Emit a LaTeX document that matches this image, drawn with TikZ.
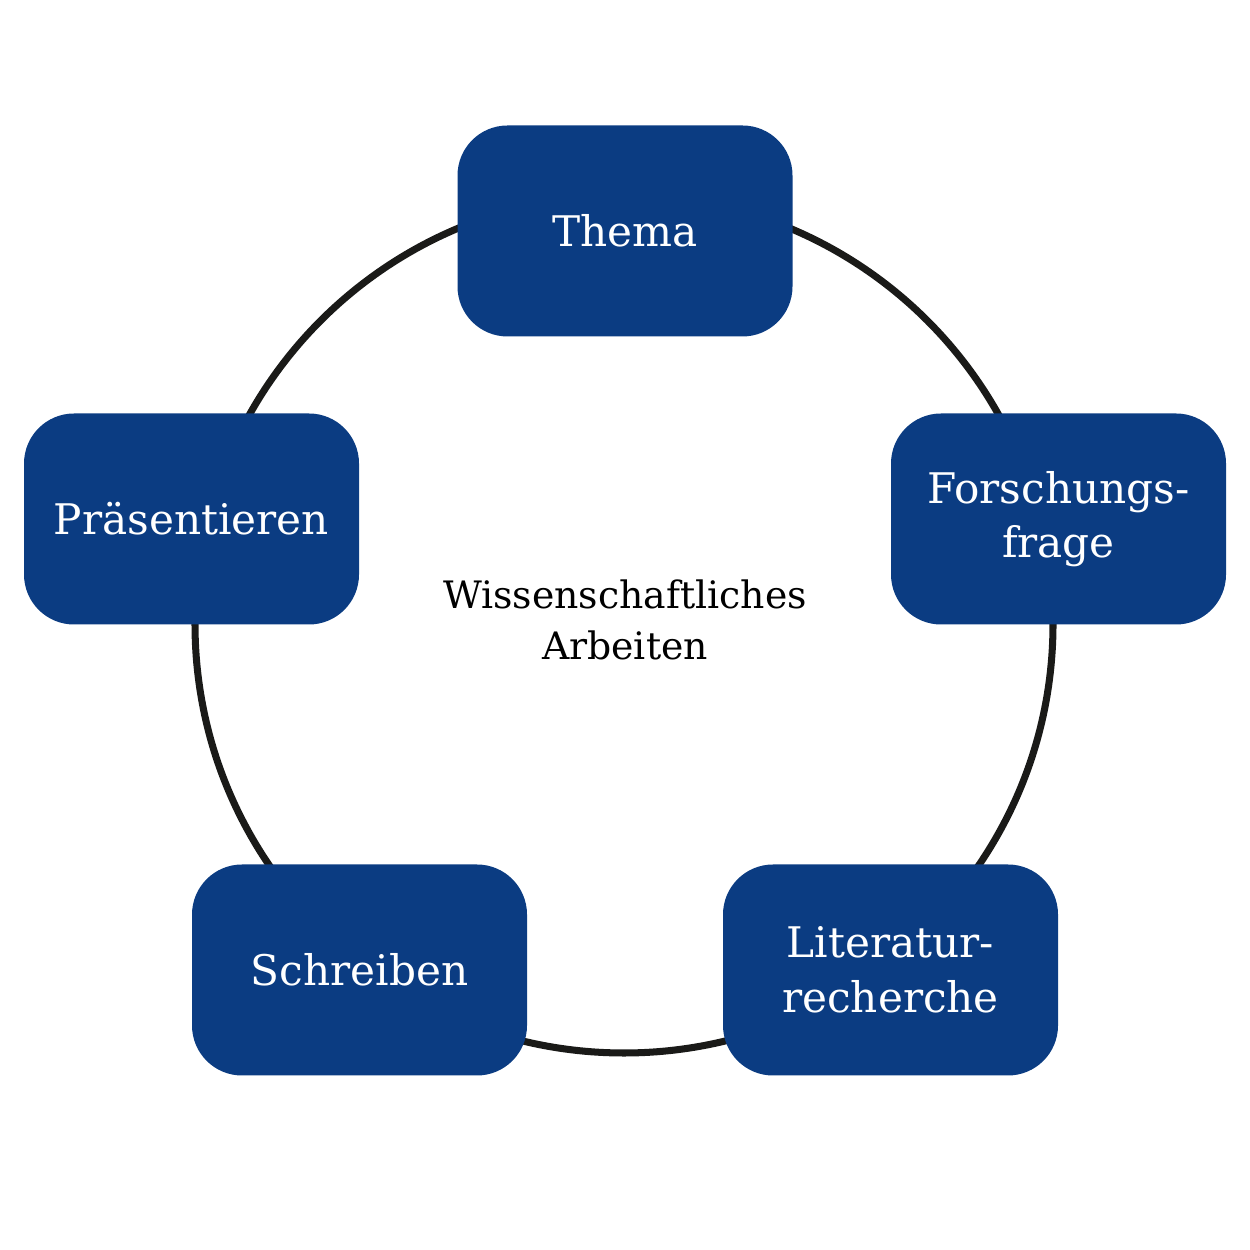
\documentclass[tikz,border=0pt]{standalone}
\usepackage{fontspec}
\setmainfont{DejaVu Serif}
\usetikzlibrary{positioning}
\definecolor{navy}{HTML}{0B3C82}
\definecolor{ring}{HTML}{1A1A18}

\begin{document}
\begin{tikzpicture}[
              b/.style={fill=navy,text=white,rounded corners=1cm,minimum width=6.7cm,
              minimum height=4.22cm,align=center,font=\fontsize{24}{31}\selectfont}]
              \useasboundingbox (0,0) rectangle (25,25);
              \draw[ring,line width=4pt] (12.48,12.52) circle (8.58cm);
              \node[align=center,font=\fontsize{21.5}{29}\selectfont] (mid) at (12.5,12.6)
                {Wissenschaftliches\\Arbeiten};
              \node[b] (th) at (12.5,20.38) {Thema};
              \node[b] (ff) at (21.17,14.62) {Forschungs-\\frage};
              \node[b] (lr) at (17.81,5.6) {Literatur-\\recherche};
              \node[b] (sc) at (7.19,5.6) {Schreiben};
              \node[b] (pr) at (3.83,14.62) {Präsentieren};
            \end{tikzpicture}
\end{document}
